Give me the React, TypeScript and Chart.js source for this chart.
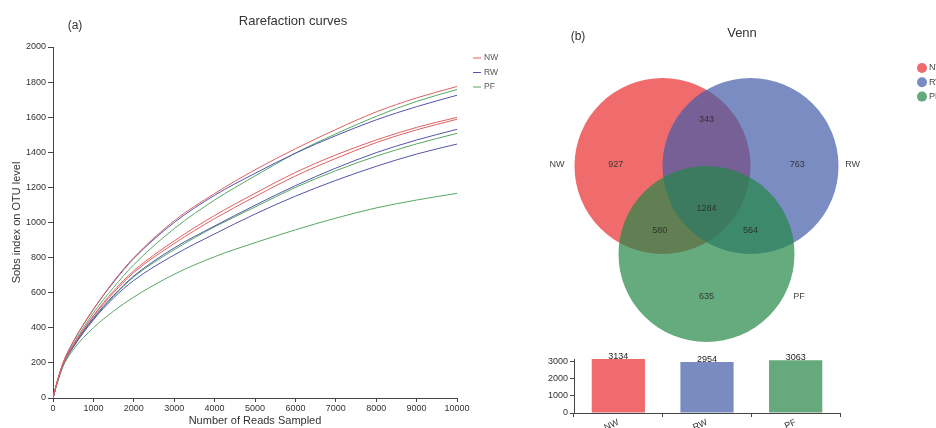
import React, { useEffect, useRef } from 'react';
import { Chart, registerables } from 'chart.js';

Chart.register(...registerables);

const FONT = '"Liberation Sans", Arial, Helvetica, sans-serif';
const TEXT = '#333333';
const AXIS = '#444444';

// ---------- (a) Rarefaction curves ----------
const readsSampled = [0, 100, 250, 500, 1000, 1500, 2000, 3000, 4000, 5000, 6000, 7000, 8000, 9000, 10000];
const nwSample1 = [0, 90, 200, 320, 505, 665, 800, 1010, 1165, 1300, 1420, 1530, 1630, 1710, 1775];
const nwSample2 = [0, 88, 195, 300, 470, 610, 725, 895, 1040, 1166, 1285, 1385, 1470, 1542, 1599];
const nwSample3 = [0, 88, 192, 298, 465, 600, 715, 880, 1022, 1147, 1265, 1365, 1455, 1528, 1588];
const rwSample1 = [0, 90, 200, 320, 505, 660, 795, 1000, 1155, 1280, 1395, 1495, 1585, 1660, 1725];
const rwSample2 = [0, 87, 190, 295, 455, 585, 695, 855, 980, 1098, 1210, 1310, 1398, 1470, 1531];
const rwSample3 = [0, 86, 188, 288, 445, 570, 670, 815, 935, 1048, 1150, 1240, 1320, 1390, 1447];
const pfSample1 = [0, 88, 195, 305, 485, 630, 760, 965, 1128, 1265, 1395, 1505, 1605, 1690, 1758];
const pfSample2 = [0, 87, 190, 292, 450, 580, 690, 845, 975, 1088, 1200, 1295, 1378, 1448, 1508];
const pfSample3 = [0, 80, 180, 275, 400, 495, 575, 705, 805, 885, 958, 1025, 1083, 1128, 1166];

const rareGroups = ['NW', 'RW', 'PF'];
const rareColors = ['rgb(222,96,96)', 'rgb(84,84,172)', 'rgb(86,168,100)'];
const rareSeriesGroup = ['NW', 'NW', 'NW', 'RW', 'RW', 'RW', 'PF', 'PF', 'PF'];
const rareSeriesValues = [nwSample1, nwSample2, nwSample3, rwSample1, rwSample2, rwSample3, pfSample1, pfSample2, pfSample3];

// ---------- (b) Venn ----------
const vennSets = ['NW', 'RW', 'PF'];
const vennCenterX = [-0.5, 0.5, 0];
const vennCenterY = [0.5, 0.5, -0.5];
const vennColors = ['rgba(233,45,45,0.7)', 'rgba(65,91,168,0.7)', 'rgba(36,136,71,0.7)'];
const vennLegendColors = ['#ef6b6d', '#7a8bc2', '#65a97d'];
const vennRegionCounts = [927, 343, 763, 580, 1284, 564, 635];
const vennRegionX = [-1.03, 0, 1.03, -0.53, 0, 0.5, 0];
const vennRegionY = [0.52, 1.03, 0.52, -0.23, 0.02, -0.23, -0.98];
const vennLabelX = [-1.7, 1.66, 1.05];
const vennLabelY = [0.52, 0.52, -0.98];

// ---------- totals bar ----------
const barCategories = ['NW', 'RW', 'PF'];
const barTotals = [3134, 2954, 3063];
const barColors = ['#ef6b6d', '#7a8bc2', '#65a97d'];
const barTickValues = [0, 1000, 2000, 3000];

Chart.defaults.font.family = FONT;
Chart.defaults.color = TEXT;

const plainNumber = (v: any) => String(v);

function ChartCanvas(props: { left: number; top: number; width: number; height: number; build: () => any }) {
  const ref = useRef<HTMLCanvasElement>(null);
  useEffect(() => {
    const chart = new Chart(ref.current as HTMLCanvasElement, props.build());
    return () => chart.destroy();
  }, []);
  return (
    <canvas
      ref={ref}
      width={props.width}
      height={props.height}
      style={{ position: 'absolute', left: props.left, top: props.top, width: props.width, height: props.height }}
    />
  );
}

function buildRarefaction() {
  const datasets = rareSeriesValues.map((vals, i) => {
    const color = rareColors[rareGroups.indexOf(rareSeriesGroup[i])];
    return {
      label: rareSeriesGroup[i],
      data: readsSampled.map((x, j) => ({ x, y: vals[j] })),
      borderColor: color,
      backgroundColor: color,
      borderWidth: 1,
      pointRadius: 0,
      fill: false,
      cubicInterpolationMode: 'monotone',
    };
  });
  const decor = {
    id: 'rareDecor',
    afterDraw(chart: any) {
      const ctx = chart.ctx;
      const area = chart.chartArea;
      ctx.save();
      ctx.fillStyle = TEXT;
      ctx.textBaseline = 'middle';
      ctx.textAlign = 'center';
      ctx.font = `13px ${FONT}`;
      ctx.fillText('Rarefaction curves', 293, 21);
      ctx.font = `12px ${FONT}`;
      ctx.fillText('(a)', 75, 26);
      ctx.font = `8.5px ${FONT}`;
      ctx.textAlign = 'left';
      rareGroups.forEach((g, i) => {
        const y = 58 + i * 14.5;
        const x0 = area.right + 16;
        ctx.strokeStyle = rareColors[i];
        ctx.lineWidth = 1;
        ctx.beginPath();
        ctx.moveTo(x0, y);
        ctx.lineTo(x0 + 8, y);
        ctx.stroke();
        ctx.fillStyle = '#555';
        ctx.fillText(g, x0 + 11, y);
      });
      ctx.restore();
    },
  };
  return {
    type: 'line',
    data: { datasets },
    plugins: [decor],
    options: {
      responsive: false,
      animation: false,
      devicePixelRatio: 1,
      layout: { padding: { left: 0, top: 47, right: 83, bottom: 0 } },
      plugins: { legend: { display: false }, tooltip: { enabled: false }, title: { display: false } },
      scales: {
        x: {
          type: 'linear',
          min: 0,
          max: 10000,
          ticks: { stepSize: 1000, font: { size: 9 }, color: TEXT, padding: 1, maxRotation: 0, callback: plainNumber },
          grid: { drawOnChartArea: false, tickLength: 4, color: AXIS },
          border: { color: AXIS },
          title: { display: true, text: 'Number of Reads Sampled', font: { size: 11 }, color: TEXT, padding: { top: 0, bottom: 0 } },
          afterFit: (s: any) => { s.height = 30; },
        },
        y: {
          type: 'linear',
          min: 0,
          max: 2000,
          ticks: { stepSize: 200, font: { size: 9 }, color: TEXT, padding: 2, callback: plainNumber },
          grid: { drawOnChartArea: false, tickLength: 5, color: AXIS },
          border: { color: AXIS },
          title: { display: true, text: 'Sobs index on OTU level', font: { size: 11 }, color: TEXT, padding: { top: 10, bottom: 0 } },
          afterFit: (s: any) => { s.width = 53; },
        },
      },
    },
  };
}

function buildVenn() {
  const unitRadius = (ctx: any) => {
    const xs = ctx.chart.scales.x;
    return Math.abs(xs.getPixelForValue(1) - xs.getPixelForValue(0));
  };
  const decor = {
    id: 'vennDecor',
    afterDatasetsDraw(chart: any) {
      const ctx = chart.ctx;
      const xs = chart.scales.x;
      const ys = chart.scales.y;
      ctx.save();
      ctx.textAlign = 'center';
      ctx.textBaseline = 'middle';
      ctx.fillStyle = TEXT;
      ctx.font = `13px ${FONT}`;
      ctx.fillText('Venn', 202, 33);
      ctx.font = `12px ${FONT}`;
      ctx.fillText('(b)', 38, 37);
      ctx.font = `9px ${FONT}`;
      ctx.fillStyle = 'rgba(40,40,40,0.85)';
      vennRegionCounts.forEach((c, i) => {
        ctx.fillText(String(c), xs.getPixelForValue(vennRegionX[i]), ys.getPixelForValue(vennRegionY[i]));
      });
      ctx.fillStyle = '#444';
      vennSets.forEach((s, i) => {
        ctx.fillText(s, xs.getPixelForValue(vennLabelX[i]), ys.getPixelForValue(vennLabelY[i]));
      });
      // legend
      ctx.textAlign = 'left';
      ctx.font = `9px ${FONT}`;
      vennSets.forEach((s, i) => {
        const y = 68 + i * 14.3;
        ctx.fillStyle = vennLegendColors[i];
        ctx.beginPath();
        ctx.arc(382, y, 5, 0, Math.PI * 2);
        ctx.fill();
        ctx.fillStyle = '#444';
        ctx.fillText(s, 389, y);
      });
      ctx.restore();
    },
  };
  return {
    type: 'scatter',
    data: {
      datasets: [
        {
          label: 'Venn',
          data: vennSets.map((s, i) => ({ x: vennCenterX[i], y: vennCenterY[i] })),
          backgroundColor: vennColors,
          borderWidth: 0,
          pointRadius: unitRadius,
          pointHoverRadius: unitRadius,
          clip: false,
        },
      ],
    },
    plugins: [decor],
    options: {
      responsive: false,
      animation: false,
      devicePixelRatio: 1,
      layout: { padding: 0 },
      plugins: { legend: { display: false }, tooltip: { enabled: false } },
      scales: {
        x: { type: 'linear', display: false, min: -166.5 / 88, max: 229.5 / 88 },
        y: { type: 'linear', display: false, min: -135 / 88, max: 210 / 88 },
      },
    },
  };
}

function buildBars() {
  const valueLabels = {
    id: 'barValues',
    afterDatasetsDraw(chart: any) {
      const ctx = chart.ctx;
      const meta = chart.getDatasetMeta(0);
      ctx.save();
      ctx.font = `9px ${FONT}`;
      ctx.fillStyle = '#222';
      ctx.textAlign = 'center';
      ctx.textBaseline = 'bottom';
      meta.data.forEach((el: any, i: number) => {
        ctx.fillText(String(barTotals[i]), el.x, el.y + 2);
      });
      ctx.restore();
    },
  };
  return {
    type: 'bar',
    data: {
      labels: barCategories,
      datasets: [
        {
          label: 'Total',
          data: barTotals,
          backgroundColor: barColors,
          borderWidth: 0,
          barPercentage: 0.6,
          categoryPercentage: 1,
        },
      ],
    },
    plugins: [valueLabels],
    options: {
      responsive: false,
      animation: false,
      devicePixelRatio: 1,
      layout: { padding: { left: 0, top: 14, right: 96, bottom: 0 } },
      plugins: { legend: { display: false }, tooltip: { enabled: false } },
      scales: {
        x: {
          ticks: { font: { size: 9 }, color: TEXT, minRotation: 25, maxRotation: 25, autoSkip: false, padding: 0 },
          grid: { drawOnChartArea: false, tickLength: 4, color: AXIS },
          border: { color: AXIS },
          afterFit: (s: any) => { s.height = 15; },
        },
        y: {
          min: 0,
          max: Math.max(...barTotals),
          ticks: { font: { size: 9 }, color: TEXT, padding: 2, callback: plainNumber },
          afterBuildTicks: (s: any) => { s.ticks = barTickValues.map((v) => ({ value: v })); },
          grid: { drawOnChartArea: false, tickLength: 4, color: AXIS },
          border: { color: AXIS },
          afterFit: (s: any) => { s.width = 34; },
        },
      },
    },
  };
}

export default function App() {
  return (
    <div style={{ position: 'absolute', left: 0, top: 0, width: 936, height: 428, overflow: 'hidden', background: '#fff' }}>
      <ChartCanvas left={0} top={0} width={540} height={428} build={buildRarefaction} />
      <ChartCanvas left={540} top={0} width={396} height={345} build={buildVenn} />
      <ChartCanvas left={540} top={345} width={396} height={83} build={buildBars} />
    </div>
  );
}
